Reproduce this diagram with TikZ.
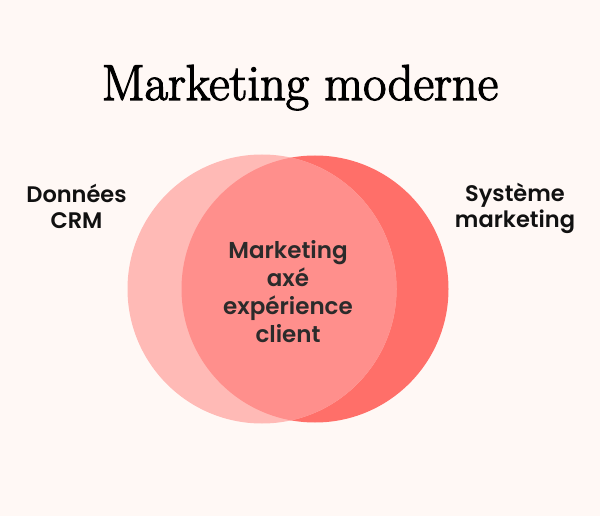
\documentclass[tikz,border=0pt]{standalone}
\usepackage{fontspec}
\newfontfamily\labfont{Poppins SemiBold}
\newfontfamily\titlefont{Latin Modern Roman}[FakeBold=2.4]
\definecolor{bgc}{HTML}{FFF8F5}
\definecolor{leftc}{HTML}{FFBAB6}
\definecolor{rightc}{HTML}{FF6F69}
\definecolor{midc}{HTML}{FF8F8C}
\definecolor{txtc}{HTML}{111111}
\definecolor{midtxt}{HTML}{2B2B2B}
\tikzset{
  side/.style={font=\labfont\fontsize{22.5}{26}\selectfont, text=txtc, align=center, inner sep=0pt},
  inner/.style={font=\labfont\fontsize{23}{28}\selectfont, text=midtxt, align=center, inner sep=0pt},
  titlestyle/.style={font=\titlefont\fontsize{50.5}{54}\selectfont, text=black, inner sep=0pt, anchor=base}
}
\begin{document}
\begin{tikzpicture}[x=1pt,y=1pt]
\fill[bgc] (0,0) rectangle (600,-516);
\useasboundingbox (0,0) rectangle (600,-516);
\coordinate (lc) at (262,-289);
\coordinate (rc) at (315,-289);
\fill[rightc] (rc) circle (133.5);
\fill[leftc] (lc) circle (134.5);
\begin{scope}
  \clip (rc) circle (133.5);
  \fill[midc] (lc) circle (134.5);
\end{scope}
\node[titlestyle] (title) at (300,-100) {Marketing moderne};
\node[side] (crm) at (76.5,-206.5) {Données\\CRM};
\node[side] (sys) at (515,-208.5) {Système\\marketing};
\node[inner] (mid) at (288,-291.5) {Marketing\\axé\\expérience\\client};
\end{tikzpicture}
\end{document}
